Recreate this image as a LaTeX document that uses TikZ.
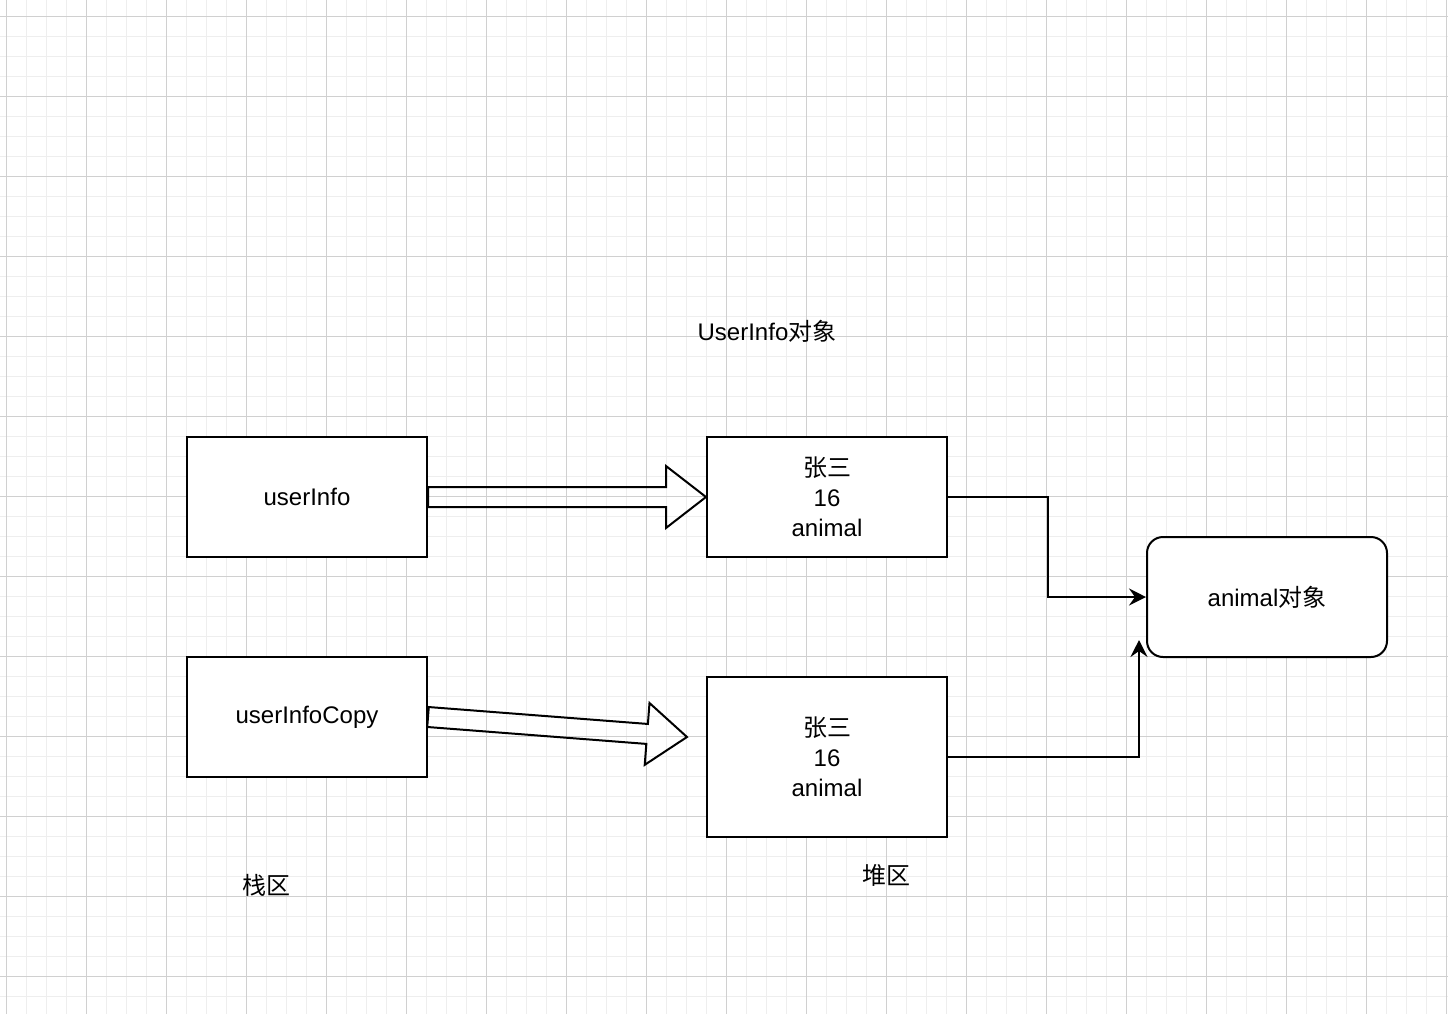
\documentclass[tikz,border=0pt]{standalone}
\usepackage{fontspec}
\setmainfont{Liberation Sans}
\newfontfamily\cjk{Noto Sans CJK SC}
\usepackage{tikz}
\usetikzlibrary{arrows.meta, calc}
\usepackage{xcolor}

\definecolor{gridminor}{HTML}{EEEEEE}
\definecolor{gridmajor}{HTML}{D0D0D0}

% hollow block arrow: start point #1, tip #2
\newcommand{\hollowarrow}[2]{%
  \coordinate (hb) at ($(#2)!20pt!(#1)$);
  \draw[line width=1pt, line join=miter]
    ($(#1)!5pt!90:(#2)$) -- ($(hb)!5pt!90:(#2)$) -- ($(hb)!15.5pt!90:(#2)$)
    -- (#2) -- ($(hb)!15.5pt!-90:(#2)$) -- ($(hb)!5pt!-90:(#2)$)
    -- ($(#1)!5pt!-90:(#2)$) -- cycle;}

\begin{document}
\begin{tikzpicture}[x=0.5pt, y=-0.5pt,
  txt/.style={font=\fontsize{12}{15}\selectfont},
  box/.style={txt, draw, line width=1pt, fill=white, align=center,
    minimum width=120pt, minimum height=60pt},
  objbox/.style={box, rounded corners=8pt},
  link/.style={-{Stealth[length=8.5pt, width=8.5pt, inset=3pt]}, line width=1pt}]
  \useasboundingbox (0,0) rectangle (1448,1014);

  % Grid
  \foreach \x in {6,26,...,1446} \draw[gridminor, line width=0.5pt] (\x,0) -- (\x,1014);
  \foreach \y in {16,36,...,1016} \draw[gridminor, line width=0.5pt] (0,\y) -- (1448,\y);
  \foreach \x in {6,86,...,1446} \draw[gridmajor, line width=0.5pt] (\x,0) -- (\x,1014);
  \foreach \y in {16,96,...,976} \draw[gridmajor, line width=0.5pt] (0,\y) -- (1448,\y);

  % Stack
  \node[box] (userinfo) at (307, 497) {userInfo};
  \node[box] (userinfocopy) at (307, 717) {userInfoCopy};
  \node[txt] (stacklbl) at (266, 885) {\cjk 栈区};

  % Heap
  \node[txt] (objlbl) at (767, 331) {UserInfo{\cjk 对象}};
  \node[box] (heapa) at (827, 497) {{\cjk 张三}\\16\\animal};
  \node[box, minimum height=80pt] (heapb) at (827, 757) {{\cjk 张三}\\16\\animal};
  \node[txt] (heaplbl) at (886, 875) {\cjk 堆区};
  \node[objbox] (animal) at (1267, 597) {animal{\cjk 对象}};

  % References
  \hollowarrow{userinfo.east}{heapa.west}
  \coordinate (copytip) at (687, 737);
  \hollowarrow{userinfocopy.east}{copytip}

  \draw[link] (heapa.east) -- ++(100,0) |- (animal.west);
  \coordinate (animalin) at (1139, 640);
  \draw[link] (heapb.east) -| (animalin);
\end{tikzpicture}
\end{document}
